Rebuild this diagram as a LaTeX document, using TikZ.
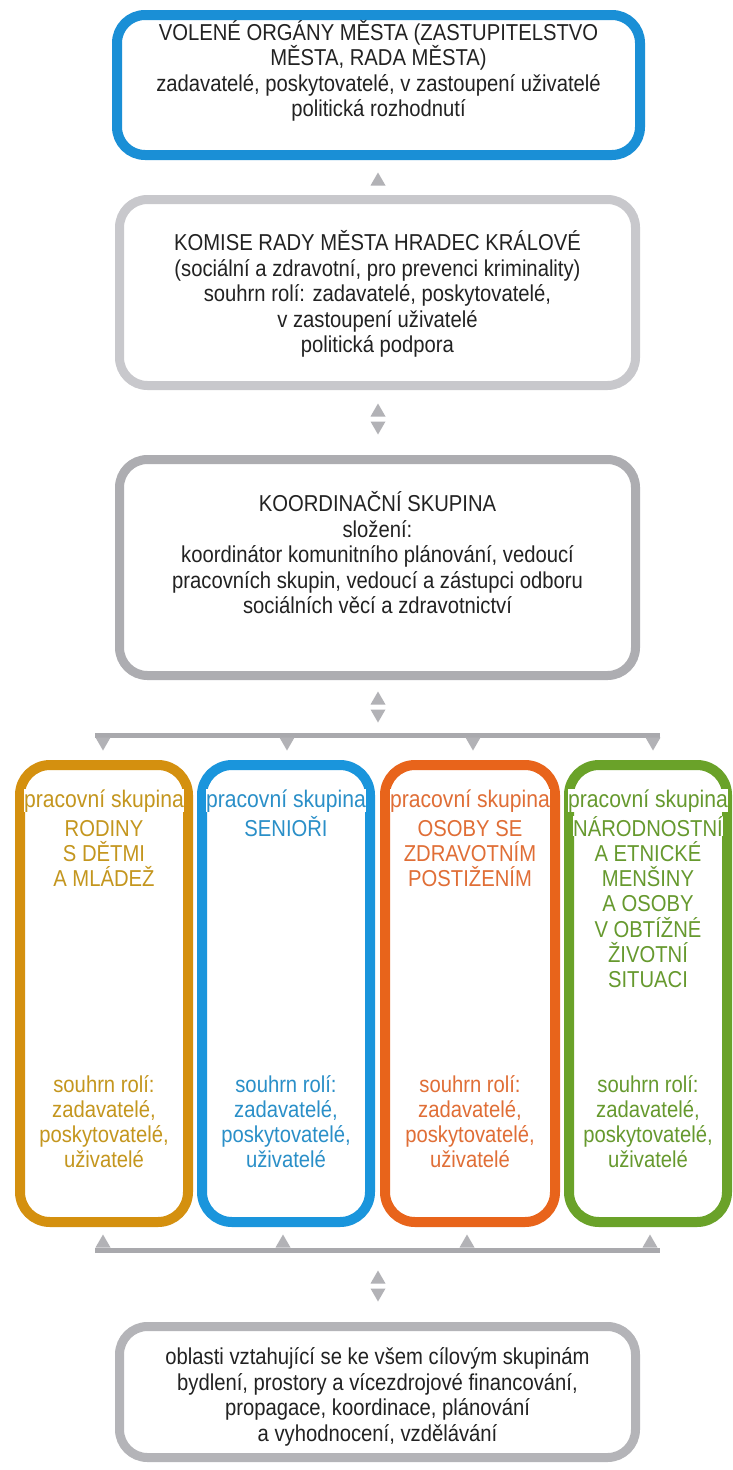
\documentclass[tikz,border=0pt]{standalone}
\usepackage{fontspec}
\setmainfont{Liberation Sans}[FakeStretch=0.88]
\newcommand\tightls{\lineskiplimit=-20pt\relax}
\newcommand\firstht{\rule{0pt}{23pt}}
\definecolor{topblue}{HTML}{1A8FD6}
\definecolor{komgray}{HTML}{C8C8CC}
\definecolor{korgray}{HTML}{ADADB1}
\definecolor{botgray}{HTML}{B4B4B8}
\definecolor{trigray}{HTML}{B2B2B6}
\definecolor{bargray}{HTML}{A9A9AD}
\definecolor{txtgray}{HTML}{222222}
\definecolor{cgold}{HTML}{D4900F}
\definecolor{cblue}{HTML}{1A95DC}
\definecolor{corange}{HTML}{E8641B}
\definecolor{cgreen}{HTML}{6AA229}
\definecolor{tgold}{HTML}{C4961E}
\definecolor{tblue}{HTML}{2A8FC8}
\definecolor{torange}{HTML}{E06E36}
\definecolor{tgreen}{HTML}{66992E}
\begin{document}
\begin{tikzpicture}[x=1pt,y=-1pt,
  frame/.style={draw, rounded corners=28pt, line width=10pt, fill=white, inner sep=0pt},
  colframe/.style={draw, rounded corners=30pt, line width=10pt, fill=white, inner sep=0pt, minimum height=457pt},
  txt/.style={font=\fontsize{23}{25.5}\selectfont\tightls, align=center, text=txtgray, inner sep=0pt},
  coltxt/.style={font=\fontsize{23}{25.2}\selectfont\tightls, align=center, inner sep=0pt, anchor=north},
  colhead/.style={font=\fontsize{24}{25.2}\selectfont, inner sep=0pt, fill=white, anchor=base},
  bar/.style={draw=bargray, line width=5pt},
  uptri/.pic={\fill[trigray] (-7.5,6.5) -- (0,-6.5) -- (7.5,6.5) -- cycle;},
  dntri/.pic={\fill[trigray] (-7.5,-6.5) -- (0,6.5) -- (7.5,-6.5) -- cycle;}
]
\useasboundingbox (0,0) rectangle (733,1470);
\fill[white] (0,0) rectangle (733,1470);

% main boxes
\node[frame, draw=topblue, minimum width=523pt, minimum height=140pt] (top) at (378.5,85) {};
\node[txt] (toptxt) at (378.5,71) {VOLENÉ ORGÁNY MĚSTA (ZASTUPITELSTVO\\MĚSTA, RADA MĚSTA)\\zadavatelé, poskytovatelé, v zastoupení uživatelé\\politická rozhodnutí};

\node[frame, draw=komgray, line width=9pt, minimum width=516pt, minimum height=186pt] (kom) at (377.5,292.5) {};
\node[txt] (komtxt) at (377.5,294) {KOMISE RADY MĚSTA HRADEC KRÁLOVÉ\\(sociální a zdravotní, pro prevenci kriminality)\\souhrn rolí: zadavatelé, poskytovatelé,\\v zastoupení uživatelé\\politická podpora};

\node[frame, draw=korgray, line width=9pt, minimum width=516pt, minimum height=216pt] (kor) at (377.5,567.5) {};
\node[txt] (kortxt) at (377.5,553) {KOORDINAČNÍ SKUPINA\\složení:\\koordinátor komunitního plánování, vedoucí\\pracovních skupin, vedoucí a zástupci odboru\\sociálních věcí a zdravotnictví};

\node[frame, draw=botgray, line width=9pt, minimum width=516pt, minimum height=131pt] (bot) at (377.5,1392) {};
\node[txt] (bottxt) at (377.5,1397) {oblasti vztahující se ke všem cílovým skupinám\\bydlení, prostory a vícezdrojové financování,\\propagace, koordinace, plánování\\a vyhodnocení, vzdělávání};

% columns
\node[colframe, draw=cgold, minimum width=168pt] (c1) at (104,993.5) {};
\node[colframe, draw=cblue, minimum width=168pt] (c2) at (286,993.5) {};
\node[colframe, draw=corange, minimum width=170pt] (c3) at (470,993.5) {};
\node[colframe, draw=cgreen, minimum width=158pt] (c4) at (648,993.5) {};

\node[colhead, text=tgold] (c1h) at (104,807) {pracovní skupina};
\node[colhead, text=tblue] (c2h) at (286,807) {pracovní skupina};
\node[colhead, text=torange] (c3h) at (470,807) {pracovní skupina};
\node[colhead, text=tgreen] (c4h) at (648,807) {pracovní skupina};

\node[coltxt, text=tgold] (c1a) at (104,813) {\firstht RODINY\\S DĚTMI\\A MLÁDEŽ};
\node[coltxt, text=tblue] (c2a) at (286,813) {\firstht SENIOŘI};
\node[coltxt, text=torange] (c3a) at (470,813) {\firstht OSOBY SE\\ZDRAVOTNÍM\\POSTIŽENÍM};
\node[colhead, font=\fontsize{23}{25.2}\selectfont, text=tgreen] (c4n) at (648,836) {NÁRODNOSTNÍ};
\node[coltxt, text=tgreen] (c4a) at (648,838.2) {\firstht A ETNICKÉ\\MENŠINY\\A OSOBY\\V OBTÍŽNÉ\\ŽIVOTNÍ\\SITUACI};

\node[coltxt, text=tgold] (c1b) at (104,1069) {\firstht souhrn rolí:\\zadavatelé,\\poskytovatelé,\\uživatelé};
\node[coltxt, text=tblue] (c2b) at (286,1069) {\firstht souhrn rolí:\\zadavatelé,\\poskytovatelé,\\uživatelé};
\node[coltxt, text=torange] (c3b) at (470,1069) {\firstht souhrn rolí:\\zadavatelé,\\poskytovatelé,\\uživatelé};
\node[coltxt, text=tgreen] (c4b) at (648,1069) {\firstht souhrn rolí:\\zadavatelé,\\poskytovatelé,\\uživatelé};

% arrows between main boxes
\pic at (378,179) {uptri};
\pic at (378,410) {uptri};
\pic at (378,428) {dntri};
\pic at (378,698) {uptri};
\pic at (378,716) {dntri};
\pic at (378,1277) {uptri};
\pic at (378,1295) {dntri};

% distribution bars
\coordinate (tbL) at (95,735);
\coordinate (tbR) at (660,735);
\draw[bar] (tbL) -- (tbR);
\foreach \xx in {103,287,473,653} {\pic at (\xx,744) {dntri};}

\coordinate (bbL) at (95,1250);
\coordinate (bbR) at (660,1250);
\draw[bar] (bbL) -- (bbR);
\foreach \xx in {103,283,467,650} {\pic at (\xx,1241) {uptri};}
\end{tikzpicture}
\end{document}
